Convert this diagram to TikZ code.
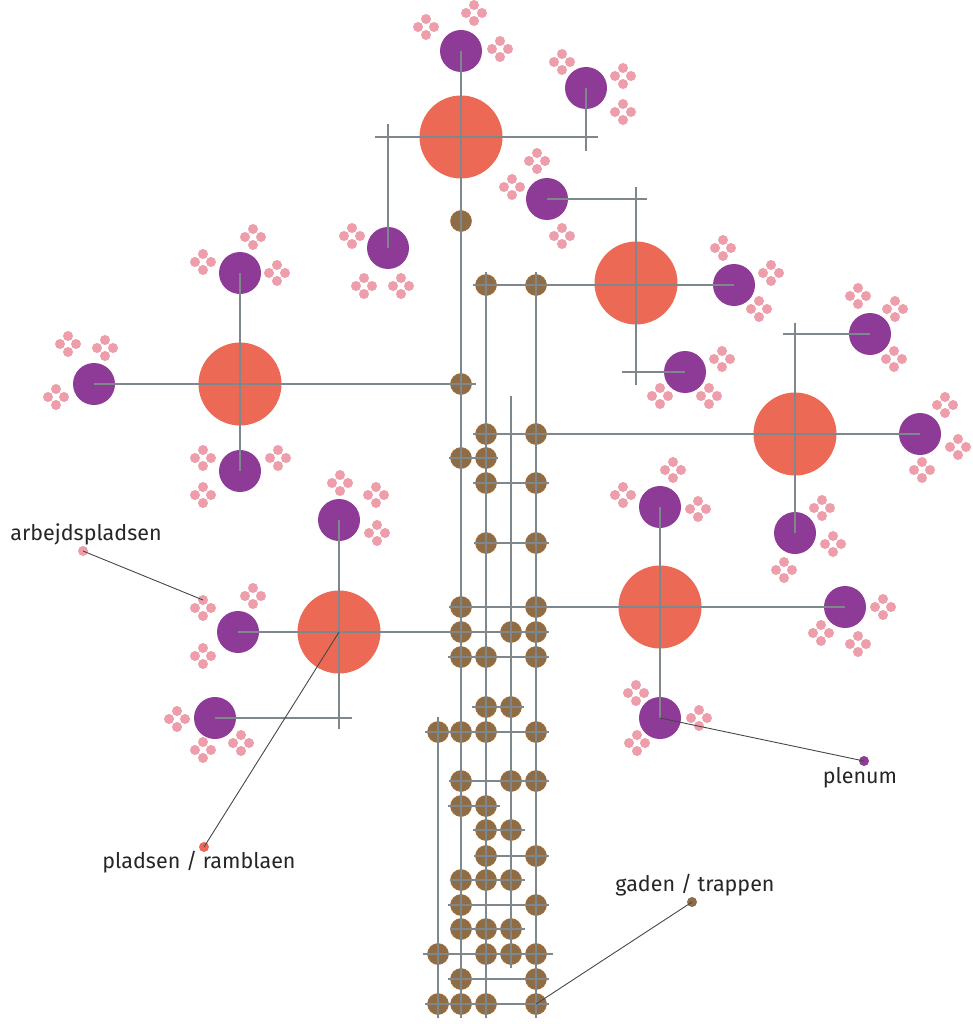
\documentclass[tikz,border=0pt]{standalone}
\usepackage{fontspec}
\setmainfont{Fira Sans}

\definecolor{pladscol}{HTML}{EC6A55}
\definecolor{plenumcol}{HTML}{8E3A97}
\definecolor{arbejdcol}{HTML}{EE9DAA}
\definecolor{gadecol}{HTML}{8E6C46}
\definecolor{stemcol}{HTML}{7D878C}
\definecolor{textcol}{HTML}{262626}

\begin{document}
\begin{tikzpicture}[
            x=1pt, y=-1pt, % pixel grid of the plan
            plads/.style={circle, fill=pladscol, inner sep=0pt, minimum size=83pt},
            plenum/.style={circle, fill=plenumcol, inner sep=0pt, minimum size=42pt},
            gade/.style={circle, fill=gadecol, draw=gadecol!75!orange,
            line width=0.6pt, inner sep=0pt, minimum size=21pt},
            stem/.style={draw=stemcol, line width=2.2pt},
            pointer/.style={draw=textcol!85, line width=0.9pt},
            legendtext/.style={text=textcol, font=\fontsize{21.5}{26}\selectfont, anchor=base}
            ]
            \useasboundingbox (0,0) rectangle (972,1024);

            % pladser
            \node[plads] (r1) at (461,137) {};
            \node[plads] (r2) at (636,283) {};
            \node[plads] (r3) at (795,434) {};
            \node[plads] (r4) at (660,607) {};
            \node[plads] (r5) at (240,384) {};
            \node[plads] (r6) at (339,632) {};

            % plenum
            \node[plenum] (p1) at (461,51) {};
            \node[plenum] (p2) at (586,88) {};
            \node[plenum] (p3) at (388,248) {};
            \node[plenum] (p4) at (547,199) {};
            \node[plenum] (p5) at (734,285) {};
            \node[plenum] (p6) at (685,372) {};
            \node[plenum] (p7) at (870,334) {};
            \node[plenum] (p8) at (920,434) {};
            \node[plenum] (p9) at (795,533) {};
            \node[plenum] (p10) at (660,507) {};
            \node[plenum] (p11) at (845,607) {};
            \node[plenum] (p12) at (660,718) {};
            \node[plenum] (p13) at (240,273) {};
            \node[plenum] (p14) at (94,384) {};
            \node[plenum] (p15) at (240,471) {};
            \node[plenum] (p16) at (339,520) {};
            \node[plenum] (p17) at (238,632) {};
            \node[plenum] (p18) at (215,718) {};

            % arbejdspladser, four petals each
            \foreach \x/\y in {426/27, 474/13, 500/49, 562/62, 623/76, 623/112,
            352/236, 364/286, 401/286, 537/161, 512/187, 562/236,
            723/248, 771/273, 759/309, 722/359, 660/396, 709/396,
            858/296, 895/309, 894/359, 945/405, 958/447, 922/470,
            822/508, 833/544, 784/570, 673/470, 623/495, 698/509,
            883/607, 821/633, 858/644, 636/693, 699/718, 637/743,
            203/262, 253/237, 277/273, 68/344, 105/348, 56/397,
            203/458, 278/458, 203/495, 340/483, 376/495, 377/533,
            203/608, 253/596, 203/656, 177/719, 241/743, 203/750}
            \foreach \a in {0,90,180,270}
            \fill[arbejdcol] (\x,\y) ++(\a:8pt) circle[radius=5pt];

            % gader / trapper
            \foreach \y/\xs in {221/{461}, 285/{486,536}, 384/{461}, 434/{486,536},
            458/{461,486}, 483/{486,536}, 543/{486,536}, 607/{461,536},
            632/{461,511,536}, 657/{461,486,536}, 707/{486,511},
            732/{438,461,486,536}, 781/{461,511,536}, 806/{461,486},
            830/{486,511}, 856/{486,536}, 880/{461,486,511}, 905/{461,536},
            929/{461,486,511}, 954/{438,486,511,536}, 979/{461,536},
            1004/{438,461,486,536}}
            \foreach \x in \xs
            \node[gade] (g\x-\y) at (\x,\y) {};

            % free ends of the stems
            \coordinate (c1w) at (375,137);
            \coordinate (c1e) at (598,137);
            \coordinate (c3t) at (388,124);
            \coordinate (c2b) at (586,151);
            \coordinate (c4e) at (647,199);
            \coordinate (c5t) at (636,187);
            \coordinate (c5b) at (636,385);
            \coordinate (c6w) at (622,372);
            \coordinate (c7t) at (795,323);
            \coordinate (c7w) at (783,334);
            \coordinate (c8e) at (476,384);
            \coordinate (c9b) at (339,729);
            \coordinate (c10e) at (549,632);
            \coordinate (c11e) at (352,718);
            \coordinate (h285w) at (473,285);
            \coordinate (h434w) at (473,434);
            \coordinate (h607w) at (449,607);
            \coordinate (t438t) at (438,717);
            \coordinate (t438b) at (438,1018);
            \coordinate (t461b) at (461,1018);
            \coordinate (t486t) at (486,272);
            \coordinate (t486b) at (486,1018);
            \coordinate (t511t) at (511,396);
            \coordinate (t511b) at (511,968);
            \coordinate (t536t) at (536,272);
            \coordinate (t536b) at (536,1018);

            % branches
            \draw[stem] (c1w) -- (c1e);
            \draw[stem] (c3t) -- (p3.center);
            \draw[stem] (p2.center) -- (c2b);
            \draw[stem] (p4.center) -- (c4e);
            \draw[stem] (c5t) -- (c5b);
            \draw[stem] (h285w) -- (p5.center);
            \draw[stem] (c6w) -- (p6.center);
            \draw[stem] (c7t) -- (p9.center);
            \draw[stem] (c7w) -- (p7.center);
            \draw[stem] (h434w) -- (p8.center);
            \draw[stem] (p10.center) -- (p12.center);
            \draw[stem] (h607w) -- (p11.center);
            \draw[stem] (p14.center) -- (c8e);
            \draw[stem] (p13.center) -- (p15.center);
            \draw[stem] (p16.center) -- (c9b);
            \draw[stem] (p17.center) -- (c10e);
            \draw[stem] (p18.center) -- (c11e);

            % trunk
            \draw[stem] (t438t) -- (t438b);
            \draw[stem] (p1.center) -- (t461b);
            \draw[stem] (t486t) -- (t486b);
            \draw[stem] (t511t) -- (t511b);
            \draw[stem] (t536t) -- (t536b);
            \foreach \y/\w/\e in {458/449/498, 483/473/549, 543/474/549,
            657/448/549, 707/472/524, 732/425/549, 781/449/549, 806/448/500,
            830/473/525, 856/474/549, 880/450/525, 905/448/549, 929/450/525,
            954/423/553, 979/448/549, 1004/425/549}
            {
            \coordinate (hw\y) at (\w,\y);
            \coordinate (he\y) at (\e,\y);
            \draw[stem] (hw\y) -- (he\y);
            }

            % legend
            \node[circle, fill=arbejdcol, inner sep=0pt, minimum size=10pt] (adot) at (83,551) {};
            \node[circle, fill=pladscol, inner sep=0pt, minimum size=10pt] (rdot) at (204,847) {};
            \node[circle, fill=plenumcol, inner sep=0pt, minimum size=10pt] (pdot) at (864,761) {};
            \node[circle, fill=gadecol, inner sep=0pt, minimum size=10pt] (gdot) at (692,902) {};
            \coordinate (atip) at (203,600);

            \draw[pointer] (adot.center) -- (atip);
            \draw[pointer] (rdot.center) -- (r6.center);
            \draw[pointer] (pdot.center) -- (p12.center);
            \draw[pointer] (gdot.center) -- (g536-1004.center);

            \node[legendtext] (lab1) at (86,540) {arbejdspladsen};
            \node[legendtext] (lab2) at (199,868) {pladsen / ramblaen};
            \node[legendtext] (lab3) at (695,891) {gaden / trappen};
            \node[legendtext] (lab4) at (860,783) {plenum};
        \end{tikzpicture}
\end{document}
